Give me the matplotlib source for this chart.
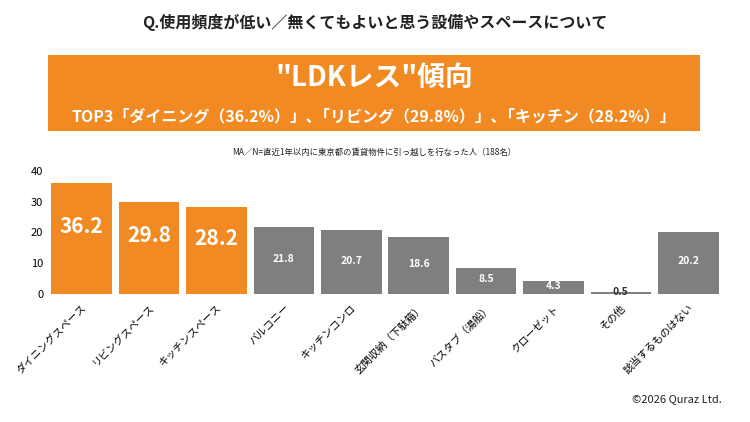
import matplotlib
matplotlib.use("Agg")
import matplotlib.pyplot as plt
from matplotlib.patches import Rectangle

plt.rcParams['font.family'] = ['Noto Sans CJK JP', 'DejaVu Sans']

categories = ["ダイニングスペース", "リビングスペース", "キッチンスペース", "バルコニー", "キッチンコンロ",
              "玄関収納（下駄箱）", "バスタブ（湯船）", "クローゼット", "その他", "該当するものはない"]
values = [36.2, 29.8, 28.2, 21.8, 20.7, 18.6, 8.5, 4.3, 0.5, 20.2]
highlight = [True, True, True, False, False, False, False, False, False, False]
yticks = [0, 10, 20, 30, 40]

ORANGE = '#F18A22'
GRAY = '#7F7F7F'

fig = plt.figure(figsize=(7.5, 4.22), dpi=100)
fig.text(0.5, 1 - 22/422, "Q.使用頻度が低い／無くてもよいと思う設備やスペースについて",
         ha='center', va='center', fontsize=11.5, fontweight='bold', color='#222222')
fig.patches.append(Rectangle((48/750, 1 - 131/422), 652/750, 76/422, transform=fig.transFigure,
                             facecolor=ORANGE, edgecolor='none'))
fig.text(374/750, 1 - 78/422, '"LDKレス"傾向', ha='center', va='center', fontsize=20,
         fontweight='bold', color='white')
fig.text(374/750, 1 - 116/422, "TOP3「ダイニング（36.2%）」､「リビング（29.8%）」､「キッチン（28.2%）」",
         ha='center', va='center', fontsize=11.5, fontweight='bold', color='white')
fig.text(374/750, 1 - 152/422, "MA／N=直近1年以内に東京都の賃貸物件に引っ越しを行なった人（188名）",
         ha='center', va='center', fontsize=6, color='#222222')
fig.text(722/750, 1 - 399/422, "©2026 Quraz Ltd.", ha='right', va='center', fontsize=8, color='#222222')

ax = fig.add_axes([48/750, 1 - 294/422, 674/750, 123/422])
x = range(len(values))
colors = [ORANGE if h else GRAY for h in highlight]
ax.bar(x, values, width=0.9, color=colors)
for i, (v, h) in enumerate(zip(values, highlight)):
    if h:
        ax.text(i, v / 2 + 4, f"{v}", ha='center', va='center', color='white', fontsize=15, fontweight='bold')
    else:
        ax.text(i, max(v / 2, 0.3) + 0.5, f"{v}", ha='center', va='center', color='white' if v > 2 else '#333333',
                fontsize=7.5, fontweight='bold')
ax.set_xlim(-0.5, len(values) - 0.5)
ax.set_ylim(0, 40)
ax.set_yticks(yticks)
ax.set_xticks(list(x))
ax.set_xticklabels(categories, rotation=45, ha='right', rotation_mode='anchor', fontsize=7.5)
ax.tick_params(length=0, labelsize=8)
ax.tick_params(axis='x', labelsize=7.5, pad=6)
for s in ax.spines.values():
    s.set_visible(False)
fig.savefig("out.png", dpi=100)
